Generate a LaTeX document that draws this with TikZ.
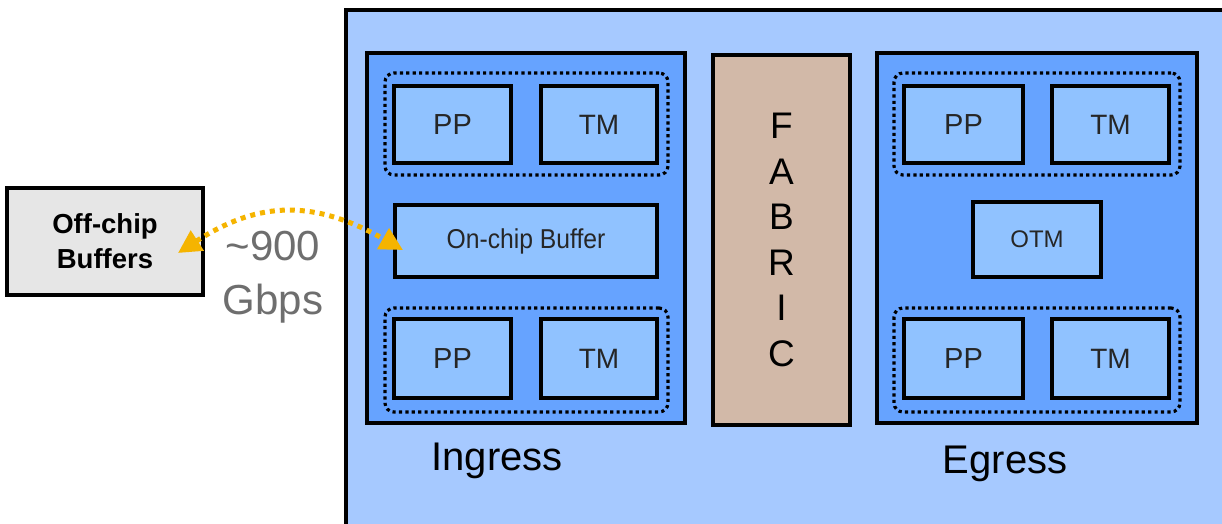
\documentclass[tikz,border=0pt]{standalone}
\usepackage{fontspec}
\setmainfont{Liberation Sans}
\usetikzlibrary{arrows.meta,calc}
\definecolor{chipblue}{HTML}{A6C9FF}
\definecolor{midblue}{HTML}{66A3FF}
\definecolor{boxblue}{HTML}{90C2FF}
\definecolor{fabtan}{HTML}{D2B9A8}
\definecolor{offgrey}{HTML}{E6E6E6}
\definecolor{amber}{HTML}{F5B400}
\definecolor{txtgrey}{HTML}{6E6E6E}
\tikzset{
  blk/.style={draw=black, line width=3.6pt, inner sep=0pt, outer sep=0pt},
  unitbox/.style={blk, fill=boxblue, text=black!85},
  grp/.style={draw=black, line width=3.2pt, dash pattern=on 3.2pt off 3.2pt, rounded corners=9pt, inner sep=0pt},
  bigtxt/.style={font=\fontsize{40}{50}\selectfont},
}
\begin{document}
\begin{tikzpicture}[x=1pt,y=-1pt]
\useasboundingbox (0,0) rectangle (1222,524);
\clip (0,0) rectangle (1222,524);
\fill[white] (0,0) rectangle (1222,524);
% chip
\node[blk, fill=chipblue, minimum width=894, minimum height=530] (chip) at (793,275) {};
% ingress / fabric / egress
\node[blk, fill=midblue, minimum width=318, minimum height=370] (ing) at (526,238) {};
\node[blk, fill=fabtan, minimum width=137, minimum height=370, align=center,
      font=\fontsize{37}{45.5}\selectfont] (fab) at (781.5,240) {F\\A\\B\\R\\I\\C};
\node[blk, fill=midblue, minimum width=320, minimum height=370] (egr) at (1037,238) {};
% ingress groups
\node[grp, minimum width=283, minimum height=102] (ig1) at (526.5,124) {};
\node[grp, minimum width=283, minimum height=104] (ig2) at (526.5,360) {};
\node[unitbox, minimum width=117, minimum height=77, font=\fontsize{29}{34}\selectfont] (ipp1) at (452.5,124.5) {PP};
\node[unitbox, minimum width=116, minimum height=77, font=\fontsize{28}{34}\selectfont] (itm1) at (599,124.5) {TM};
\node[unitbox, minimum width=117, minimum height=79, font=\fontsize{29}{34}\selectfont] (ipp2) at (452.5,358.5) {PP};
\node[unitbox, minimum width=116, minimum height=79, font=\fontsize{28}{34}\selectfont] (itm2) at (599,358.5) {TM};
\node[unitbox, minimum width=262, minimum height=72, font=\fontsize{26}{30}\selectfont] (buf) at (526,241) {\scalebox{0.95}[1.05]{On-chip Buffer}};
% egress groups
\node[grp, minimum width=286, minimum height=102] (eg1) at (1037,124) {};
\node[grp, minimum width=286, minimum height=104] (eg2) at (1037,360) {};
\node[unitbox, minimum width=119, minimum height=77, font=\fontsize{29}{34}\selectfont] (epp1) at (963.5,124.5) {PP};
\node[unitbox, minimum width=117, minimum height=77, font=\fontsize{28}{34}\selectfont] (etm1) at (1110.5,124.5) {TM};
\node[unitbox, minimum width=119, minimum height=79, font=\fontsize{29}{34}\selectfont] (epp2) at (963.5,358.5) {PP};
\node[unitbox, minimum width=117, minimum height=79, font=\fontsize{28}{34}\selectfont] (etm2) at (1110.5,358.5) {TM};
\node[unitbox, minimum width=128, minimum height=75, font=\fontsize{24}{30}\selectfont] (otm) at (1037,239.5) {OTM};
% labels
\node[bigtxt, anchor=base] (ilab) at (497,470) {Ingress};
\node[bigtxt, anchor=base] (elab) at (1005,473) {Egress};
% off-chip
\node[blk, fill=offgrey, minimum width=196, minimum height=107, align=center,
      font=\bfseries\fontsize{27.5}{35}\selectfont] (off) at (105,241.5) {Off-chip\\Buffers};
\node[bigtxt, text=txtgrey, align=center, font=\fontsize{42}{54}\selectfont] (rate) at (273,277) {\textasciitilde 900\\Gbps};
% connector
\coordinate (a1) at ($(off.east)+(-25,11.5)$);
\coordinate (a2) at ($(buf.west)+(8,9)$);
\draw[amber, line width=5pt, dash pattern=on 5pt off 5pt,
      {Triangle[length=23pt,width=23pt,fill=amber]}-{Triangle[length=23pt,width=23pt,fill=amber]}]
      (a1) .. controls (260,200) and (315,200) .. (a2);
\end{tikzpicture}
\end{document}
